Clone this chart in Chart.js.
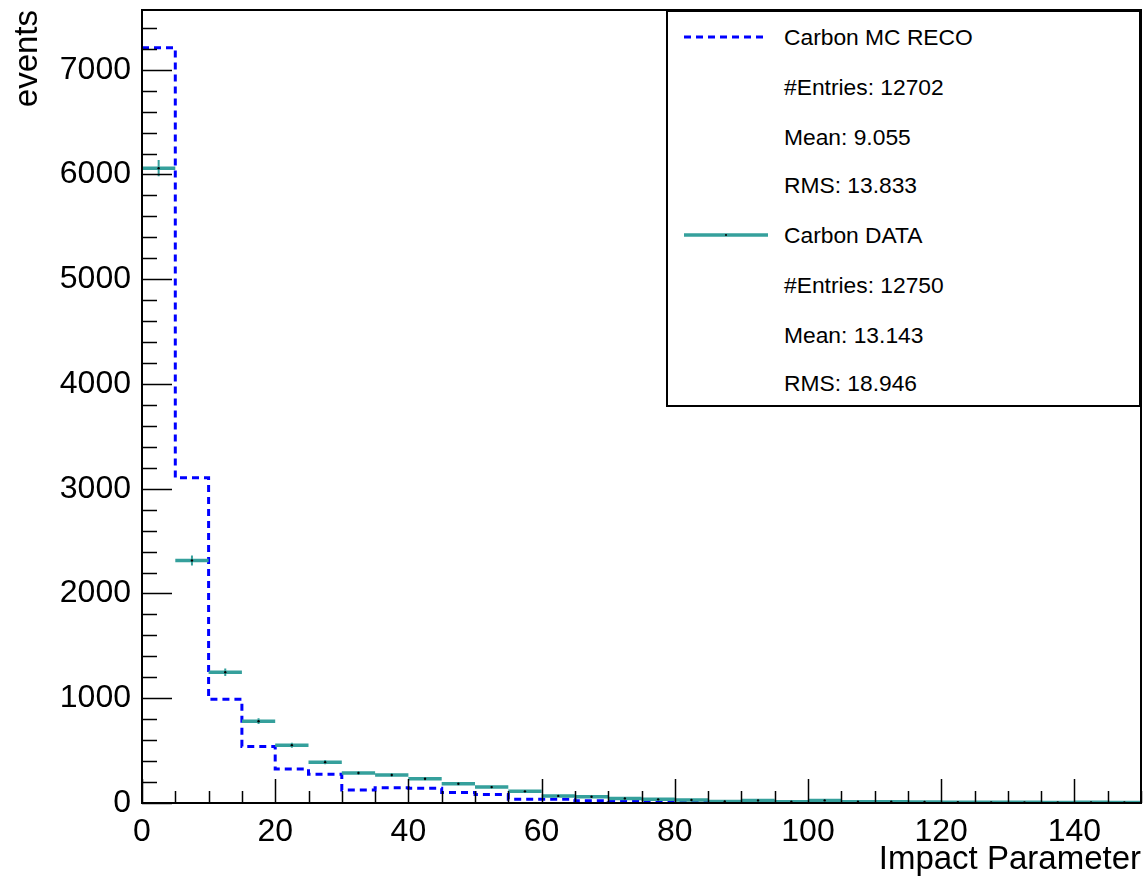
<!DOCTYPE html>
<html lang="en">
<head>
  <meta charset="UTF-8">
  <title>Impact Parameter - Carbon MC vs DATA</title>
  <script src="https://cdn.jsdelivr.net/npm/chart.js"></script>
  <style>
    body {
      margin: 0;
      background: #fff;
      font-family: 'Liberation Sans', Arial, sans-serif;
    }

    #wrap {
      position: relative;
      width: 1145px;
      height: 877px;
    }

    #statBox {
      position: absolute;
      left: 666px;
      top: 10px;
      width: 471px;
      height: 393px;
      border: 2px solid #000;
      background: #fff;
      font-size: 22.8px;
      color: #000;
    }

    .row {
      position: absolute;
      left: 116px;
      height: 30px;
      line-height: 30px;
      white-space: nowrap;
    }

    .sample {
      position: absolute;
      left: 16px;
      width: 84px;
      height: 10px;
    }
  </style>
</head>
<body>

  <div id="wrap">
    <canvas id="histChart" width="1145" height="877"></canvas>

    <div id="statBox">
      <svg class="sample" style="top:20px" width="84" height="10">
        <line x1="0" y1="5" x2="84" y2="5" stroke="#0000ff" stroke-width="3" stroke-dasharray="7 5"/>
      </svg>
      <div class="row" style="top:10px">Carbon MC RECO</div>
      <div class="row" style="top:60px">#Entries: 12702</div>
      <div class="row" style="top:110px">Mean: 9.055</div>
      <div class="row" style="top:158px">RMS: 13.833</div>

      <svg class="sample" style="top:218px" width="84" height="10">
        <line x1="0" y1="5" x2="84" y2="5" stroke="#35a09c" stroke-width="3.5"/>
        <circle cx="42" cy="5" r="1" fill="#000"/>
      </svg>
      <div class="row" style="top:208px">Carbon DATA</div>
      <div class="row" style="top:258px">#Entries: 12750</div>
      <div class="row" style="top:308px">Mean: 13.143</div>
      <div class="row" style="top:356px">RMS: 18.946</div>
    </div>
  </div>

  <script>
    // bin edges of the impact parameter histogram (30 bins)
    const binEdges = [0, 5, 10, 15, 20, 25, 30, 35, 40, 45, 50, 55, 60, 65, 70, 75,
                      80, 85, 90, 95, 100, 105, 110, 115, 120, 125, 130, 135, 140, 145, 150];

    // Carbon MC RECO (dashed blue)
    const mcCounts = [7210, 3105, 990, 540, 325, 275, 125, 145, 140, 100,
                      80, 35, 35, 22, 15, 10, 10, 8, 8, 5,
                      5, 4, 3, 3, 2, 2, 2, 1, 1, 1];

    // Carbon DATA (teal points with errors)
    const dataCounts = [6060, 2315, 1248, 781, 552, 390, 286, 267, 232, 184,
                        152, 111, 68, 60, 44, 35, 29, 15, 25, 12,
                        25, 12, 12, 10, 8, 6, 6, 5, 6, 5];

    const xTicks = [0, 20, 40, 60, 80, 100, 120, 140];
    const yTicks = [0, 1000, 2000, 3000, 4000, 5000, 6000, 7000];

    const teal = '#35a09c';

    // step outline for the MC histogram
    const mcStep = mcCounts.map((v, i) => ({ x: binEdges[i], y: v }));
    mcStep.push({ x: binEdges[binEdges.length - 1], y: mcCounts[mcCounts.length - 1] });

    // horizontal bars, vertical error bars and markers for the data
    const dataBars = [];
    const dataErrs = [];
    const dataDots = [];
    dataCounts.forEach((v, i) => {
      const lo = binEdges[i], hi = binEdges[i + 1], c = (lo + hi) / 2;
      const e = Math.sqrt(v);
      dataBars.push({ x: lo, y: v }, { x: hi, y: v }, { x: hi, y: null });
      dataErrs.push({ x: c, y: v - e }, { x: c, y: v + e }, { x: c, y: null });
      dataDots.push({ x: c, y: v });
    });

    // inward ROOT-style ticks and the frame
    const rootFrame = {
      id: 'rootFrame',
      afterDatasetsDraw(chart) {
        const { ctx, chartArea: a, scales: { x, y } } = chart;
        ctx.save();
        ctx.strokeStyle = '#000';
        ctx.lineWidth = 2;
        ctx.strokeRect(a.left, a.top, a.right - a.left, a.bottom - a.top);

        ctx.beginPath();
        for (let v = 0; v <= 7400; v += 200) {
          const py = Math.round(y.getPixelForValue(v)) + 0.5;
          const len = v % 1000 === 0 ? 30 : 15;
          ctx.moveTo(a.left, py);
          ctx.lineTo(a.left + len, py);
        }
        for (let v = 0; v <= 150; v += 5) {
          const px = Math.round(x.getPixelForValue(v)) + 0.5;
          const len = v % 20 === 0 ? 24 : 12;
          ctx.moveTo(px, a.bottom);
          ctx.lineTo(px, a.bottom - len);
        }
        ctx.lineWidth = 1.5;
        ctx.stroke();
        ctx.restore();
      }
    };

    const tickFont = { family: "'Liberation Sans', Arial, sans-serif", size: 32 };
    const titleFont = { family: "'Liberation Sans', Arial, sans-serif", size: 33 };

    const ctx = document.getElementById('histChart').getContext('2d');

    const chart = new Chart(ctx, {
      type: 'line',
      data: {
        datasets: [
          {
            label: 'Carbon MC RECO',
            data: mcStep,
            stepped: 'before',
            borderColor: '#0000ff',
            borderWidth: 3,
            borderDash: [7, 5],
            pointRadius: 0,
            fill: false,
            order: 3
          },
          {
            label: 'Carbon DATA',
            data: dataBars,
            borderColor: teal,
            borderWidth: 3.5,
            pointRadius: 0,
            spanGaps: false,
            fill: false,
            order: 2
          },
          {
            label: 'errors',
            data: dataErrs,
            borderColor: teal,
            borderWidth: 2,
            pointRadius: 0,
            spanGaps: false,
            fill: false,
            order: 1
          },
          {
            label: 'markers',
            data: dataDots,
            showLine: false,
            pointRadius: 1.2,
            pointBackgroundColor: '#000',
            pointBorderWidth: 0,
            order: 0
          }
        ]
      },
      options: {
        responsive: false,
        animation: false,
        parsing: false,
        layout: { padding: { top: 10, right: 4, left: 0, bottom: 0 } },
        plugins: {
          legend: { display: false },
          tooltip: { enabled: false }
        },
        scales: {
          x: {
            type: 'linear',
            min: 0,
            max: 150,
            grid: { display: false },
            border: { display: false },
            afterBuildTicks: s => { s.ticks = xTicks.map(v => ({ value: v })); },
            afterFit: s => { s.height = 74; s.paddingLeft = 0; s.paddingRight = 0; },
            ticks: {
              autoSkip: false,
              maxRotation: 0,
              padding: 2,
              color: '#000',
              font: tickFont,
              callback: v => String(v)
            },
            title: {
              display: true,
              text: 'Impact Parameter',
              align: 'end',
              color: '#000',
              font: titleFont,
              padding: { top: 0, bottom: -3 }
            }
          },
          y: {
            type: 'linear',
            min: 0,
            max: 7570,
            grid: { display: false },
            border: { display: false },
            afterBuildTicks: s => { s.ticks = yTicks.map(v => ({ value: v })); },
            afterFit: s => { s.width = 142; s.paddingTop = 0; s.paddingBottom = 0; },
            ticks: {
              padding: 3,
              color: '#000',
              font: tickFont,
              callback: v => String(v)
            },
            title: {
              display: true,
              text: 'events',
              align: 'end',
              color: '#000',
              font: titleFont,
              padding: { top: 8, bottom: 0 }
            }
          }
        }
      },
      plugins: [rootFrame]
    });
  </script>

</body>
</html>
